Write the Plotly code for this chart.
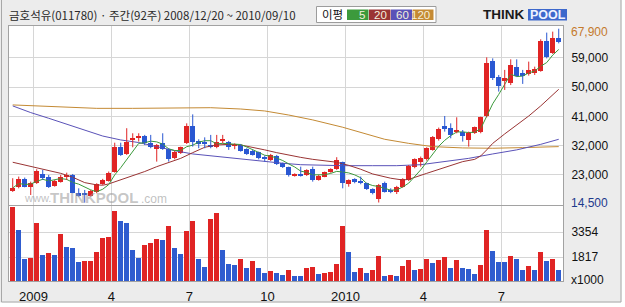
import plotly.graph_objects as go
import pandas as pd

# ---------------- data ----------------
title_text = "금호석유(011780) · 주간(92주) 2008/12/20 ~ 2010/09/10"
legend_title = "이평"
ma_labels = ["5", "20", "60", "120"]

opens = [18100, 19400, 21800, 19200, 20650, 23300, 22500, 19650, 20950, 22500,
         23000, 17600, 17250, 16650, 17700, 20150, 21250, 24050, 31700, 29450,
         33750, 34250, 34950, 32900, 30900, 32700, 30900, 28100, 29850, 32900,
         38050, 33450, 33050, 32200, 31500, 33550, 33250, 31900, 32200, 31000,
         30450, 29950, 28650, 27600, 28950, 26600, 25350, 22700, 23200, 23000,
         24750, 21450, 22500, 24050, 24750, 26900, 20250, 21650, 21250, 20450,
         18700, 15550, 20450, 18400, 17900, 19400, 21450, 25350, 27100, 27800,
         30700, 33950, 38050, 37350, 36100, 36300, 33750, 36000, 36100, 41100,
         58000, 53200, 52150, 51150, 56250, 54200, 53900, 54200, 55000, 64250,
         60550, 64950]
highs = [22000, 22500, 22200, 20950, 24750, 24550, 23000, 21450, 23000, 23700,
         23300, 18900, 18400, 18400, 20450, 21800, 24050, 32900, 32900, 37350,
         35800, 35800, 35300, 35300, 32500, 35800, 31200, 30450, 31700, 38850,
         41600, 33950, 34550, 35300, 35300, 35300, 33450, 32700, 32400, 31200,
         30700, 30150, 28950, 29450, 29150, 26800, 25550, 23500, 25550, 24750,
         25550, 23000, 24050, 25050, 28450, 27100, 21650, 22000, 22500, 20650,
         18900, 20250, 20950, 18900, 19650, 22000, 26050, 28100, 28650, 31500,
         34950, 37550, 41100, 38850, 40700, 36800, 36300, 37850, 40900, 59100,
         58800, 53700, 55250, 58500, 58500, 55250, 57800, 56250, 64650, 66700,
         67000, 67900]
lows = [17800, 18900, 19200, 16850, 20250, 21450, 19000, 19400, 20650, 21450,
        17400, 16350, 14500, 16350, 17400, 19950, 20950, 23700, 28850, 29150,
        31500, 33250, 32200, 31200, 27100, 30700, 27100, 27800, 29450, 32500,
        31700, 31200, 31200, 31200, 31200, 32700, 30700, 30900, 30150, 29150,
        28950, 27800, 27100, 27300, 26050, 25150, 22500, 22500, 22500, 22700,
        20950, 21250, 22300, 23700, 24550, 18900, 19400, 20450, 20150, 18400,
        17050, 14550, 17600, 17400, 17150, 19100, 21150, 25050, 25550, 27400,
        30450, 33550, 36300, 34250, 35800, 33250, 31700, 35600, 35800, 40700,
        52150, 48600, 49100, 50600, 53200, 50950, 53500, 53700, 54700, 58800,
        60150, 63400]
closes = [19000, 21800, 19400, 20650, 24350, 22200, 19200, 21250, 22500, 23000,
          17600, 16550, 16850, 18100, 20150, 21450, 23700, 31700, 29150, 33250,
          34450, 34950, 32700, 31500, 32200, 30900, 27800, 30150, 31500, 38050,
          33250, 32400, 32400, 31500, 33250, 33950, 31700, 32400, 30450, 29450,
          29150, 28100, 28100, 29150, 26400, 25350, 23000, 23300, 22800, 24550,
          21450, 22800, 23800, 24850, 27600, 20450, 21450, 20750, 20450, 18700,
          17400, 19950, 17900, 17700, 19200, 21800, 25850, 27900, 28100, 31200,
          34750, 37100, 37000, 35300, 36800, 34950, 36000, 37650, 40700, 57250,
          52650, 50400, 52650, 56750, 53500, 53500, 55250, 55450, 64250, 59100,
          64950, 63900]
volumes = [4888, 3490, 1700, 1782, 3942, 1947, 2050, 1947, 3263, 2440,
           2379, 1536, 1550, 1577, 2153, 3017, 3058, 4662, 4066, 3942,
           2256, 1782, 2585, 2708, 2934, 2873, 3757, 2400, 2029, 3449,
           4066, 1700, 1227, 4189, 4559, 2256, 1412, 1330, 1721, 1165,
           1577, 1165, 857, 960, 857, 713, 1021, 651, 640, 1124,
           1186, 774, 857, 880, 1392, 3737, 2153, 918, 1145, 857,
           1021, 1885, 672, 713, 651, 1268, 1638, 1021, 1083, 1700,
           1474, 1638, 1824, 1145, 1638, 1145, 1104, 774, 1330, 3490,
           2194, 1515, 1500, 1885, 1700, 1021, 1268, 1021, 2132, 1577,
           1700, 1000]

# moving averages (week index, value)
ma20_weeks = [0, 2, 4, 6, 8, 10, 12, 14, 15, 16, 18, 20, 22, 24, 26, 28, 30, 32, 34, 36,
              38, 40, 42, 44, 46, 48, 50, 52, 54, 56, 58, 60, 63, 65, 66, 69, 72, 75, 77,
              78, 79, 80, 82, 84, 86, 88, 90, 91]
ma20_values = [26900, 26050, 25350, 24550, 23500, 22300, 20650, 19950, 19850, 20250,
               21450, 22800, 24050, 25550, 26800, 28100, 29850, 31500, 32200, 32400,
               32200, 31500, 30700, 29850, 29050, 28400, 27800, 27400, 26900, 25950,
               24750, 23300, 22000, 21450, 21650, 23500, 25350, 27100, 27800, 28850,
               30700, 32700, 35600, 38350, 41100, 44200, 47550, 49300]
ma60_weeks = [0, 3, 6, 9, 12, 15, 18, 21, 24, 27, 30, 33, 36, 39, 42, 45, 48, 51, 55,
              60, 64, 68, 72, 76, 80, 84, 88, 91]
ma60_values = [44200, 42150, 40400, 38550, 36600, 34950, 33750, 32950, 31700, 30450,
               29450, 28850, 28200, 27600, 27100, 26600, 26150, 25950, 25850, 25850,
               25850, 26150, 27100, 28100, 29450, 30700, 32400, 33950]
ma120_weeks = [0, 4, 10, 14, 20, 28, 33, 38, 42, 46, 50, 55, 59, 61, 62, 66, 70, 75, 80, 85, 91]
ma120_values = [44500, 44200, 43650, 43450, 43450, 43650, 43650, 43250, 42650, 41400,
                39900, 37650, 35600, 34550, 33950, 32700, 31700, 31300, 31200, 31400, 31700]

quarter_labels = ["2009", "4", "7", "10", "2010", "4", "7"]
quarter_weeks = [3.45, 16.45, 29.45, 42.45, 55.45, 68.45, 81.45]
price_ticks = [23000, 32000, 41000, 50000, 59000]
volume_ticks = [1817, 3354]
volume_unit = "x1000"

# ---------------- styles / layout helpers ----------------
W, H = 625, 307
PL, PR, PT, PB = 9, 563, 26, 281          # plot area in pixels
RED, BLUE = "#e02424", "#2a58d2"
VRED, VBLUE = "#e02424", "#2f5ccf"
C5, C20, C60, C120 = "#3c9a3c", "#9a3434", "#5a52b8", "#c48a34"
GRID = "#d6d6d6"
BORDER = "#a2a2a2"
NUMFONT = "Liberation Sans, Arial, sans-serif"
KRFONT = "Noto Sans CJK KR, sans-serif"


def fx(px):
    return (px - PL) / (PR - PL)


def fy(py):
    return (PB - py) / (PB - PT)


n = len(closes)
x = list(range(n))
x_min = -0.62
x_max = x_min + (PR - PL) / 6.0

price_dom = [fy(205), 1.0]
vol_dom = [0.0, fy(206)]
price_range = [13778, 68732]
vol_range = [344, 4971]

ma5 = pd.Series(closes).rolling(5, min_periods=1).mean().tolist()

fig = go.Figure()

for wk, vals, col in [(ma120_weeks, ma120_values, C120), (ma60_weeks, ma60_values, C60),
                      (ma20_weeks, ma20_values, C20), (x, ma5, C5)]:
    fig.add_trace(go.Scatter(x=wk, y=vals, mode="lines", line=dict(color=col, width=1),
                             xaxis="x2", yaxis="y2", hoverinfo="skip"))

for is_up, col in [(True, RED), (False, BLUE)]:
    idx = [i for i in x if (closes[i] >= opens[i]) == is_up]
    wx, wy = [], []
    for i in idx:
        wx += [i, i, None]
        wy += [lows[i], highs[i], None]
    fig.add_trace(go.Scatter(x=wx, y=wy, mode="lines", line=dict(color=col, width=1),
                             xaxis="x2", yaxis="y2", hoverinfo="skip"))
    fig.add_trace(go.Bar(x=idx,
                         y=[max(abs(closes[i] - opens[i]), 120) for i in idx],
                         base=[min(opens[i], closes[i]) for i in idx],
                         marker=dict(color=col, line=dict(width=0)), width=0.76,
                         xaxis="x2", yaxis="y2"))

vcolors = [VRED if (i == 0 or volumes[i] >= volumes[i - 1]) else VBLUE for i in x]
fig.add_trace(go.Bar(x=x, y=volumes, marker=dict(color=vcolors, line=dict(width=0)),
                     width=0.84, xaxis="x", yaxis="y"))

axis_common = dict(showline=True, mirror=True, linecolor=BORDER, linewidth=1,
                   gridcolor=GRID, gridwidth=1, zeroline=False, ticks="", automargin=False)

fig.update_layout(
    width=W, height=H,
    margin=dict(l=PL, r=W - PR, t=PT, b=H - PB, pad=0),
    paper_bgcolor="#ececec", plot_bgcolor="white",
    showlegend=False, barmode="overlay", bargap=0,
    xaxis=dict(domain=[0, 1], anchor="y", range=[x_min, x_max],
               tickmode="array", tickvals=quarter_weeks, ticktext=quarter_labels,
               tickfont=dict(family="Liberation Sans Narrow, " + NUMFONT, size=13, color="#111"),
               ticklabelstandoff=3, **axis_common),
    xaxis2=dict(domain=[0, 1], anchor="y2", matches="x", range=[x_min, x_max],
                tickmode="array", tickvals=quarter_weeks, showticklabels=False,
                **axis_common),
    yaxis=dict(domain=vol_dom, anchor="x", range=vol_range, side="right",
               tickmode="array", tickvals=volume_ticks, ticktext=[str(v) for v in volume_ticks],
               tickfont=dict(family=NUMFONT, size=12, color="#111"),
               ticklabelstandoff=5, **axis_common),
    yaxis2=dict(domain=price_dom, anchor="x2", range=price_range, side="right",
                tickmode="array", tickvals=price_ticks,
                ticktext=[f"{v:,}" for v in price_ticks],
                tickfont=dict(family=NUMFONT, size=12, color="#111"),
                ticklabelstandoff=5, **axis_common),
)

shapes = []
shapes.append(dict(type="rect", xref="paper", yref="paper", x0=fx(621.5), x1=fx(W + 2),
                   y0=fy(H + 2), y1=fy(-2), fillcolor="white", line=dict(width=0)))
shapes.append(dict(type="rect", xref="paper", yref="paper", x0=fx(-2), x1=fx(W + 2),
                   y0=fy(H + 2), y1=fy(302.5), fillcolor="white", line=dict(width=0)))
shapes.append(dict(type="rect", xref="paper", yref="paper", x0=fx(1.5), x1=fx(621),
                   y0=fy(302), y1=fy(-1), line=dict(color="#a8a8a8", width=1)))
shapes.append(dict(type="rect", xref="paper", yref="paper", x0=fx(316.5), x1=fx(436),
                   y0=fy(22.5), y1=fy(6.5), fillcolor="white", line=dict(color="#9c9c9c", width=1)))
legend_boxes = [(347, 368.5), (369, 390.5), (391, 412), (412.5, 433.5)]
for (a, b), col in zip(legend_boxes, [C5, C20, C60, C120]):
    shapes.append(dict(type="rect", xref="paper", yref="paper", x0=fx(a), x1=fx(b),
                       y0=fy(20), y1=fy(9.5), fillcolor=col, line=dict(width=0)))
shapes.append(dict(type="rect", xref="paper", yref="paper", x0=fx(528), x1=fx(567),
                   y0=fy(20.5), y1=fy(9), fillcolor="#3d68cc", line=dict(width=0)))
fig.update_layout(shapes=shapes)

ann = []
ann.append(dict(xref="paper", yref="paper", x=fx(7), y=fy(15.5), text=title_text,
                showarrow=False, xanchor="left", yanchor="middle",
                font=dict(family=KRFONT, size=11.5, color="#2a2a2a")))
ann.append(dict(xref="paper", yref="paper", x=fx(320), y=fy(14.5), text=legend_title,
                showarrow=False, xanchor="left", yanchor="middle",
                font=dict(family=KRFONT, size=11.5, color="#111")))
for (a, b), lab in zip(legend_boxes, ma_labels):
    ann.append(dict(xref="paper", yref="paper", x=fx(b - 1.5), y=fy(14.8), text=lab,
                    showarrow=False, xanchor="right", yanchor="middle",
                    font=dict(family=NUMFONT, size=11.5, color="#f4f0dc")))
ann.append(dict(xref="paper", yref="paper", x=fx(481), y=fy(14.8), text="<b>THINK</b>",
                showarrow=False, xanchor="left", yanchor="middle",
                font=dict(family=NUMFONT, size=13.5, color="#1a1a1a")))
ann.append(dict(xref="paper", yref="paper", x=fx(547.5), y=fy(14.8), text="<b>POOL</b>",
                showarrow=False, xanchor="center", yanchor="middle",
                font=dict(family=NUMFONT, size=12.5, color="#eef2ff")))
ann.append(dict(xref="paper", yref="y2", x=fx(569), y=max(highs), text=f"{max(highs):,}",
                showarrow=False, xanchor="left", yanchor="middle", yshift=-3,
                font=dict(family=NUMFONT, size=12, color="#c47a2c")))
ann.append(dict(xref="paper", yref="y2", x=fx(569), y=min(lows), text=f"{min(lows):,}",
                showarrow=False, xanchor="left", yanchor="middle",
                font=dict(family=NUMFONT, size=12, color="#1e3a8c")))
ann.append(dict(xref="paper", yref="paper", x=fx(569), y=fy(280), text=volume_unit,
                showarrow=False, xanchor="left", yanchor="middle",
                font=dict(family=NUMFONT, size=12, color="#111")))
ann.append(dict(xref="paper", yref="paper", x=fx(22), y=fy(198), text="www.",
                showarrow=False, xanchor="left", yanchor="middle",
                font=dict(family=NUMFONT, size=11, color="rgba(150,150,150,0.6)")))
ann.append(dict(xref="paper", yref="paper", x=fx(48), y=fy(197), text="<b>THINKPOOL</b>",
                showarrow=False, xanchor="left", yanchor="middle",
                font=dict(family=NUMFONT, size=15, color="rgba(150,150,150,0.55)")))
ann.append(dict(xref="paper", yref="paper", x=fx(139), y=fy(198.5), text=".com",
                showarrow=False, xanchor="left", yanchor="middle",
                font=dict(family=NUMFONT, size=12, color="rgba(150,150,150,0.6)")))
fig.update_layout(annotations=ann)

fig.write_html("out.html")
